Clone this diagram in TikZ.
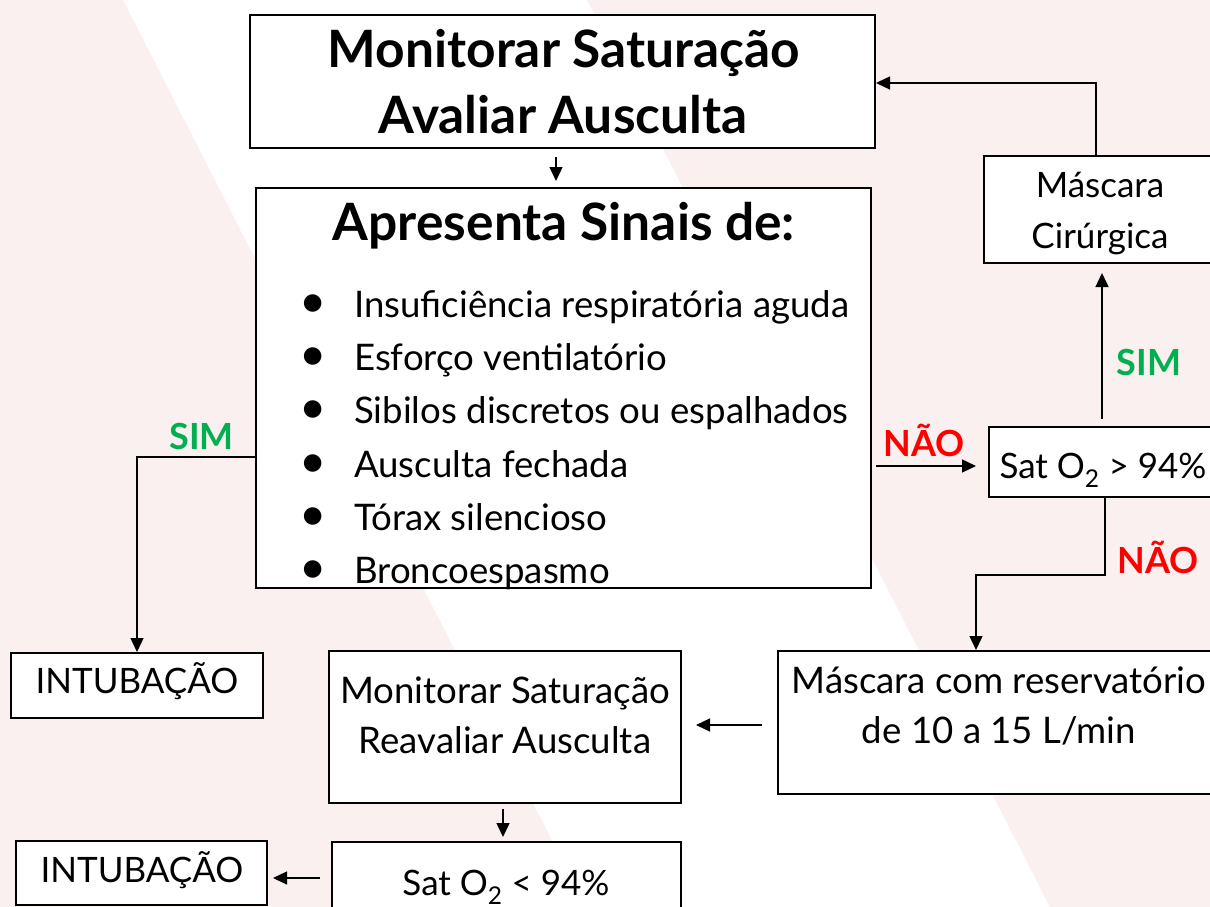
\documentclass[tikz,border=0pt]{standalone}
\usepackage{fontspec}
\setmainfont{Lato}
\usetikzlibrary{arrows.meta}
\definecolor{pinkbg}{RGB}{251,240,240}
\definecolor{simgreen}{RGB}{0,176,80}
\definecolor{naored}{RGB}{255,0,0}
\begin{document}
\begin{tikzpicture}[x=1pt,y=-1pt,
  box/.style={draw=black, line width=2pt, fill=white, inner sep=0pt},
  txt/.style={anchor=base, inner sep=0pt, font=\fontsize{35}{35}\selectfont},
  ltxt/.style={anchor=base, inner sep=0pt, font=\fontsize{36.6}{36.6}\selectfont},
  btxt/.style={anchor=base, inner sep=0pt, font=\fontsize{51.5}{51.5}\selectfont\bfseries},
  bul/.style={anchor=base, inner sep=0pt, font=\fontsize{47}{47}\selectfont},
  lblg/.style={anchor=base, inner sep=0pt, font=\fontsize{36}{36}\selectfont\bfseries, text=simgreen},
  lblr/.style={anchor=base, inner sep=0pt, font=\fontsize{36}{36}\selectfont\bfseries, text=naored},
  arr/.style={-{Triangle[length=14pt,width=13pt]}, line width=1.4pt}]
\useasboundingbox (0,0) rectangle (1210,907);
\clip (0,0) rectangle (1210,907);
\fill[white] (0,0) rectangle (1210,907);
\fill[pinkbg] (0,0) -- (123,0) -- (586,907) -- (0,907) -- cycle;
\fill[pinkbg] (587,0) -- (1210,0) -- (1210,907) -- (1050,907) -- cycle;

% boxes
\node[box, minimum width=625pt, minimum height=133pt] (top) at (562.5,81.5) {};
\node[box, minimum width=615pt, minimum height=400pt] (signs) at (563.5,388) {};
\node[box, minimum width=232pt, minimum height=107pt] (cir) at (1100,209.5) {};
\node[box, minimum width=223pt, minimum height=70pt] (sathi) at (1100.5,462) {};
\node[box, minimum width=438pt, minimum height=143pt] (res) at (997,722.5) {};
\node[box, minimum width=352pt, minimum height=152pt] (reav) at (505,727) {};
\node[box, minimum width=349pt, minimum height=70pt] (satlo) at (506.5,877) {};
\node[box, minimum width=252pt, minimum height=65pt] (int1) at (137,685.5) {};
\node[box, minimum width=251pt, minimum height=64pt] (int2) at (141.5,873) {};

% texts
\node[btxt] (t1a) at (564,67) {Monitorar Saturação};
\node[btxt] (t1b) at (563,133) {Avaliar Ausculta};
\node[btxt] (t2) at (564,240) {Apresenta Sinais de:};
\foreach \i/\s in {0/Insuficiência respiratória aguda, 1/Esforço ventilatório, 2/Sibilos discretos ou espalhados, 3/Ausculta fechada, 4/Tórax silencioso, 5/Broncoespasmo}{
  \node[bul] (b\i) at (313,317.5+53.2*\i) {•};
  \node[ltxt, anchor=base west] (s\i) at (354,317.5+53.2*\i) {\s};
}
\node[txt] (c1) at (1100,197) {Máscara};
\node[txt] (c2) at (1100,248) {Cirúrgica};
\node[txt] (h1) at (1103,478) {Sat O\textsubscript{2} > 94\%};
\node[ltxt] (r1) at (999,693) {Máscara com reservatório};
\node[ltxt] (r2) at (999,743) {de 10 a 15 L/min};
\node[ltxt] (v1) at (505,703) {Monitorar Saturação};
\node[ltxt] (v2) at (505,753) {Reavaliar Ausculta};
\node[txt] (l1) at (506,895) {Sat O\textsubscript{2} < 94\%};
\node[txt] (i1) at (137,693) {INTUBAÇÃO};
\node[txt] (i2) at (142,882) {INTUBAÇÃO};

% labels
\node[lblg] (simL) at (201.5,449) {SIM};
\node[lblr] (naoM) at (924,456) {NÃO};
\node[lblg] (simR) at (1149,375) {SIM};
\node[lblr] (naoR) at (1158,573) {NÃO};

% connectors
\coordinate (x556) at (556,0);
\draw[arr, shorten <=8pt, shorten >=6pt] (top.south -| x556) -- (signs.north -| x556);
\coordinate (y457) at (0,457);
\draw[arr] (signs.west |- y457) -| (int1.north);
\coordinate (y466) at (0,466);
\draw[arr, shorten <=4pt, shorten >=12pt] (signs.east |- y466) -- (sathi.west |- y466);
\coordinate (x1102) at (1102,0);
\draw[arr, shorten <=7pt, shorten >=9pt] (sathi.north -| x1102) -- (cir.south -| x1102);
\coordinate (x1096) at (1096,0);
\coordinate (y83) at (0,83);
\draw[arr] (cir.north -| x1096) |- (top.east |- y83);
\coordinate (k1) at (1105,575);
\coordinate (k2) at (976,575);
\draw[arr] (sathi.south -| k1) -- (k1) -- (k2) -- (res.north -| k2);
\coordinate (y725) at (0,725);
\draw[arr, shorten <=15pt, shorten >=14pt] (res.west |- y725) -- (reav.east |- y725);
\coordinate (x503) at (503,0);
\draw[arr, shorten <=5pt, shorten >=4pt] (reav.south -| x503) -- (satlo.north -| x503);
\coordinate (y878) at (0,878);
\draw[arr, shorten <=11pt, shorten >=5pt] (satlo.west |- y878) -- (int2.east |- y878);
\end{tikzpicture}
\end{document}
